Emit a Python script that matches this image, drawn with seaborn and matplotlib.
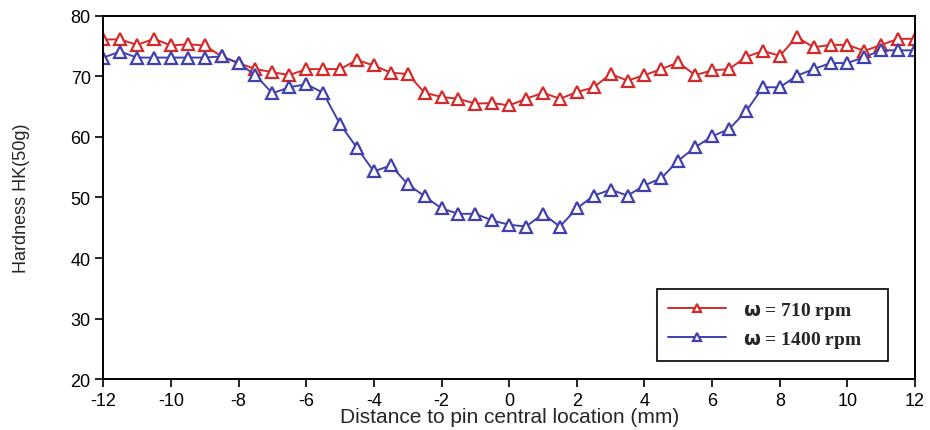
import numpy as np
import matplotlib
matplotlib.use('Agg')
import matplotlib.pyplot as plt
import seaborn as sns
import pandas as pd

# distance from pin centre (mm), one reading every 0.5 mm
distance = np.arange(-12, 12.5, 0.5)

hk_710 = [76.1, 76.1, 75.2, 76.2, 75.1, 75.3, 75.1, 73.3, 72.2, 71.2,
          70.7, 70.2, 71.2, 71.2, 71.2, 72.7, 71.8, 70.6, 70.4, 67.3,
          66.6, 66.3, 65.5, 65.6, 65.2, 66.3, 67.3, 66.3, 67.4, 68.2,
          70.4, 69.3, 70.2, 71.2, 72.3, 70.2, 71.0, 71.2, 73.2, 74.2,
          73.4, 76.5, 74.8, 75.2, 75.2, 74.2, 75.2, 76.2, 76.2]

hk_1400 = [73.1, 74.1, 73.1, 73.1, 73.1, 73.1, 73.1, 73.3, 72.2, 70.2,
           67.2, 68.2, 68.7, 67.3, 62.1, 58.2, 54.3, 55.3, 52.2, 50.2,
           48.2, 47.3, 47.3, 46.2, 45.5, 45.2, 47.3, 45.2, 48.2, 50.3,
           51.3, 50.3, 52.0, 53.2, 56.1, 58.3, 60.1, 61.3, 64.2, 68.2,
           68.2, 70.1, 71.2, 72.2, 72.2, 73.2, 74.3, 74.3, 74.3]

labels = [r'$\mathbf{\omega}$ = 710 rpm', r'$\mathbf{\omega}$ = 1400 rpm']
colors = ['#d42a2a', '#4040ae']

df = pd.DataFrame({'distance': distance, '710': hk_710, '1400': hk_1400})

sns.set_style('white')
plt.rcParams['font.family'] = ['Liberation Sans', 'DejaVu Sans']
plt.rcParams['axes.unicode_minus'] = False

fig = plt.figure(figsize=(9.3, 4.31), dpi=100)
ax = fig.add_axes([0.111, 0.118, 0.873, 0.843])

for col, lab, c in zip(['710', '1400'], labels, colors):
    sns.lineplot(data=df, x='distance', y=col, ax=ax, color=c, label=lab,
                 marker='^', markersize=8, markerfacecolor='white',
                 markeredgecolor=c, markeredgewidth=1.6, linewidth=1.4)

ax.set_xlim(-12, 12)
ax.set_ylim(20, 80)
ax.set_xticks(np.arange(-12, 13, 2))
ax.set_yticks(np.arange(20, 81, 10))
ax.tick_params(direction='out', length=6, width=1.2, labelsize=13, colors='black',
               left=True, bottom=True, pad=3)
for s in ax.spines.values():
    s.set_visible(True)
    s.set_color('black')
    s.set_linewidth(1.4)

ax.set_xlabel('Distance to pin central location (mm)', fontsize=15, labelpad=-1)
ax.set_ylabel('Hardness HK(50g)', fontsize=13, labelpad=29)

leg = ax.legend(loc='lower left', bbox_to_anchor=(0.682, 0.05, 0.284, 0.19),
                mode='expand', borderaxespad=0,
                fancybox=False, edgecolor='black', framealpha=1, handlelength=3.0,
                handletextpad=0.9, borderpad=0.55, labelspacing=0.45,
                markerscale=0.8,
                prop={'family': 'Liberation Serif', 'weight': 'bold', 'size': 14})
leg.get_frame().set_linewidth(1.2)

fig.savefig('out.png', dpi=100)
